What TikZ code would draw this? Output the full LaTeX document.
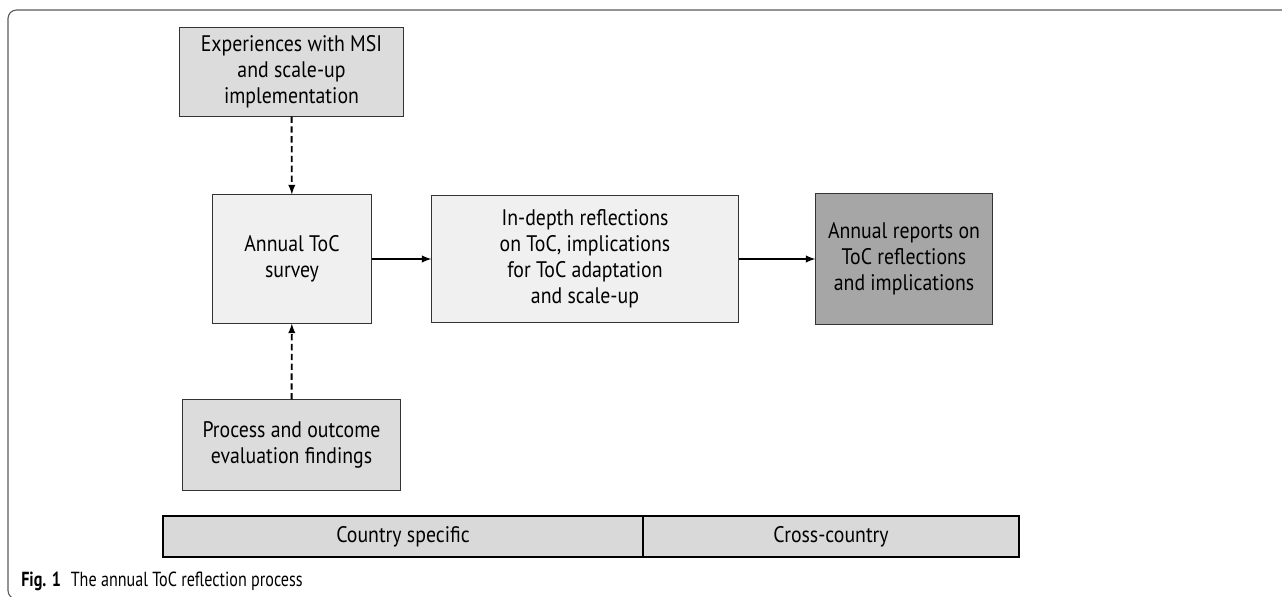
\documentclass[tikz,border=0pt]{standalone}
\usepackage{fontspec}
\setmainfont{PT Sans}
\newfontfamily\boxfont[FakeStretch=0.88]{PT Sans}
\newfontfamily\capfont[FakeStretch=0.79]{PT Sans}
\usepackage{tikz}
\usetikzlibrary{shapes,arrows}

\definecolor{lightbox}{HTML}{DCDCDC}
\definecolor{palebox}{HTML}{F0F0F0}
\definecolor{darkbox}{HTML}{A6A6A6}
\definecolor{barfill}{HTML}{D9D9D9}
\definecolor{framegray}{HTML}{5A5A5A}

\begin{document}
\begin{tikzpicture}[x=0.025cm,y=-0.025cm,
                every path/.style={>=latex},
                box/.style={draw=black!80,line width=0.7pt,align=center,inner sep=0pt,
                            font=\boxfont\fontsize{16}{18.4}\selectfont},
                bar/.style={draw=black,line width=1.6pt,inner sep=0pt,minimum height=1.025cm,
                            fill=barfill,font=\boxfont\fontsize{16}{18.4}\selectfont}]
  \useasboundingbox (0,0) rectangle (1282,597);
  % frame
  \draw[framegray,line width=0.8pt,rounded corners=6] (1290,10) -- (8,10) -- (8,599) -- (30,599);
  % boxes
  \node[box,fill=lightbox,minimum width=5.575cm,minimum height=2.2cm]   (exp)     at (291.5,72)  {Experiences with MSI\\and scale-up\\implementation};
  \node[box,fill=palebox,minimum width=3.95cm,minimum height=3.2cm]     (survey)  at (292,259)   {Annual ToC\\survey};
  \node[box,fill=palebox,minimum width=7.65cm,minimum height=3.175cm]   (depth)   at (585,259)   {In-depth reflections\\on ToC, implications\\for ToC adaptation\\and scale-up};
  \node[box,fill=darkbox,minimum width=4.4cm,minimum height=3.275cm]    (reports) at (904,259)   {Annual reports on\\ToC reflections\\and implications};
  \node[box,fill=lightbox,minimum width=5.425cm,minimum height=2.25cm]  (proc)    at (291.5,445) {Process and outcome\\evaluation findings};
  % bottom bar
  \node[bar,minimum width=12cm]  (country) at (403,536.5) {Country specific};
  \node[bar,minimum width=9.4cm] (cross)   at (831,536.5) {Cross-country};
  % caption
  \node[anchor=base west,inner sep=0pt,font=\capfont\fontsize{14.5}{17}\selectfont] (cap) at (21,586)
       {\textbf{Fig. 1}\hspace{7pt}The annual ToC reflection process};
  % arrows
  \draw[->,line width=1.35pt,dashed,dash pattern=on 4.5pt off 2.5pt] (exp) edge (survey);
  \draw[->,line width=1.35pt,dashed,dash pattern=on 4.5pt off 2.5pt] (proc) edge (survey);
  \draw[->,line width=1.35pt] (survey) edge (depth);
  \draw[->,line width=1.35pt] (depth) edge (reports);
\end{tikzpicture}
\end{document}
